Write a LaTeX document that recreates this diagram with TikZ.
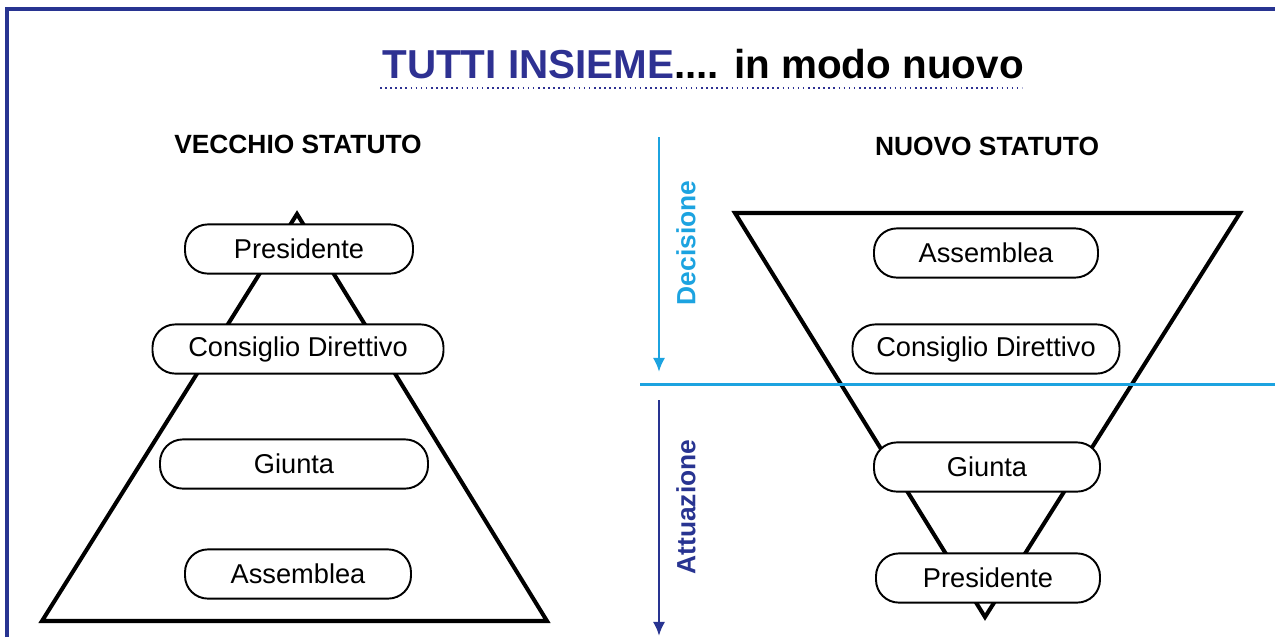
\documentclass[tikz,border=0pt]{standalone}
\usepackage{fontspec}
\setmainfont{Liberation Sans}
\usetikzlibrary{arrows.meta}

\definecolor{titleblue}{RGB}{46,49,146}
\definecolor{lightblue}{RGB}{28,163,224}
\definecolor{darkblue}{RGB}{40,52,145}

\tikzset{
    organo/.style={draw, line width=1.1pt, fill=white, rounded corners=13pt,
        minimum height=28pt, inner sep=0pt, font=\fontsize{15.5}{18}\selectfont},
    intestazione/.style={font=\bfseries\fontsize{15}{18}\selectfont},
    verso/.style={font=\bfseries\fontsize{15}{18}\selectfont, rotate=90},
    freccia/.style={line width=1.6pt, -{Latex[length=8pt,width=7pt]}}
}

\begin{document}
\begin{tikzpicture}[x=0.02cm,y=-0.02cm]
    \useasboundingbox (0,0) rectangle (1275,637);
    \coordinate (F1) at (7,637);
    \coordinate (F2) at (7,9);
    \coordinate (F3) at (1275,9);
    \coordinate (V1) at (297,214);  % apice vecchio
    \coordinate (V2) at (42,621);
    \coordinate (V3) at (547,621);
    \coordinate (N1) at (735,213);
    \coordinate (N2) at (1240,213);
    \coordinate (N3) at (985,617);  % apice nuovo
    \coordinate (D1) at (659,137);
    \coordinate (D2) at (659,372);
    \coordinate (A1) at (659,400);
    \coordinate (A2) at (659,636);
    \coordinate (L1) at (640,384);
    \coordinate (L2) at (1275,384);
    \coordinate (T1) at (380,88);
    \coordinate (T2) at (1022,88);

    % cornice
    \draw[darkblue, line width=1.9pt] (F1) -- (F2) -- (F3);

    % titolo
    \node (titolo) at (703,64) {\bfseries\fontsize{23}{28}\selectfont\textcolor{titleblue}{TUTTI INSIEME}.... in modo nuovo};
    \draw[titleblue, line width=0.9pt, dotted] (T1) -- (T2);

    \node[intestazione] (vecchio) at (298,144) {VECCHIO STATUTO};
    \node[intestazione] (nuovo) at (987,146) {NUOVO STATUTO};

    % piramidi
    \draw[line width=2.3pt, line join=miter] (V1) -- (V2) -- (V3) -- cycle; % vecchio
    \draw[line width=2.3pt, line join=miter] (N1) -- (N2) -- (N3) -- cycle; % nuovo
    \draw[lightblue, line width=1.7pt] (L1) -- (L2);

    % vecchio statuto
    \node[organo, minimum width=228*0.02cm] (vpres) at (299,249) {Presidente};
    \node[organo, minimum width=291*0.02cm] (vcons) at (298,349) {Consiglio Direttivo};
    \node[organo, minimum width=268*0.02cm] (vgiun) at (294,464) {Giunta};
    \node[organo, minimum width=226*0.02cm] (vass) at (298,574) {Assemblea};

    % nuovo statuto
    \node[organo, minimum width=224*0.02cm] (nass) at (986,253) {Assemblea};
    \node[organo, minimum width=267*0.02cm] (ncons) at (986,349) {Consiglio Direttivo};
    \node[organo, minimum width=226*0.02cm] (ngiun) at (987,467) {Giunta};
    \node[organo, minimum width=224*0.02cm] (npres) at (988,578) {Presidente};

    % frecce
    \draw[freccia, lightblue] (D1) -- (D2);
    \draw[freccia, darkblue] (A1) -- (A2);
    \node[verso, lightblue] (decisione) at (686,243) {Decisione};
    \node[verso, darkblue] (attuazione) at (686,507) {Attuazione};
\end{tikzpicture}
\end{document}
